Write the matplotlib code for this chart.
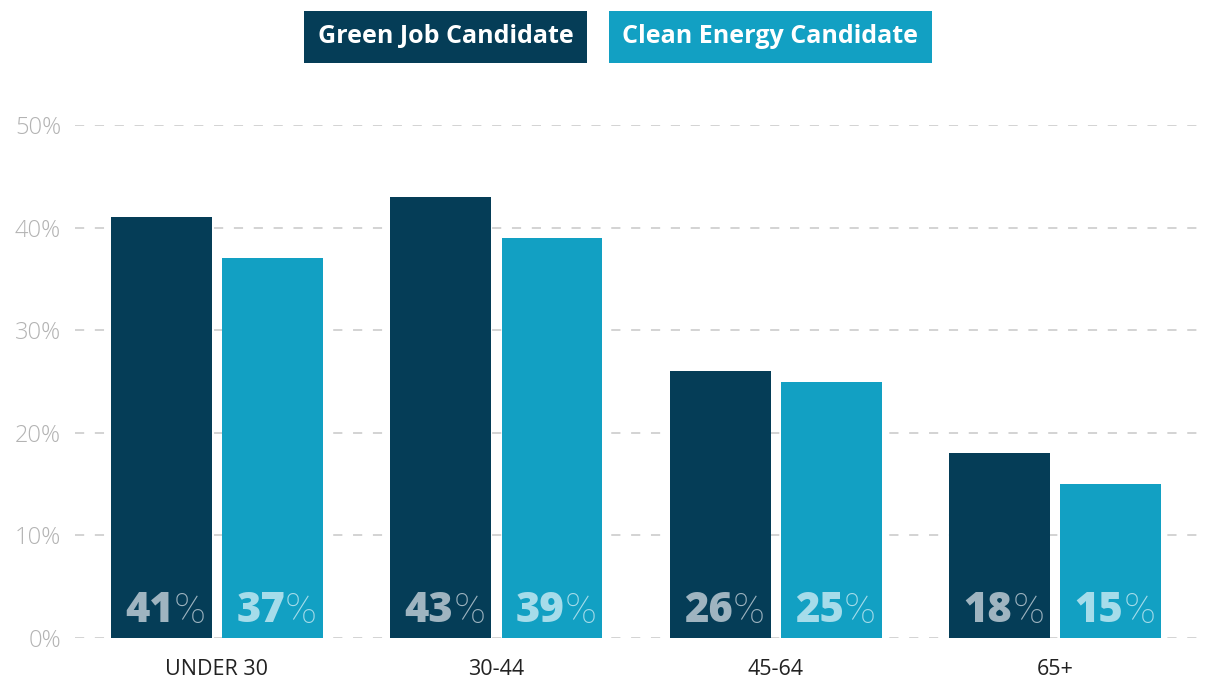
import numpy as np
import matplotlib.pyplot as plt

# data
groups = ['UNDER 30', '30-44', '45-64', '65+']
green_job = [41, 43, 26, 18]
clean_energy = [37, 39, 25, 15]
series_names = ['Green Job Candidate', 'Clean Energy Candidate']

dark = '#053d57'
light = '#12a0c3'

plt.rcParams['font.family'] = ['Open Sans', 'DejaVu Sans']

fig = plt.figure(figsize=(12.12, 6.81), dpi=100)
ax = fig.add_axes([0.0619, 0.0631, 0.928, 0.7533])

x = np.arange(len(groups))
w = 0.361
off = 0.199
ax.bar(x - off, green_job, w, color=dark, zorder=2)
ax.bar(x + off, clean_energy, w, color=light, zorder=2)

# value labels: bold number + light percent sign at bar bottom
for xs, vals, col in [(x - off, green_job, '#9fb4c0'), (x + off, clean_energy, '#a6dcea')]:
    for xi, v in zip(xs, vals):
        ax.annotate(str(v), (xi, 0), xytext=(9, 4), textcoords='offset points',
                    ha='right', va='bottom', fontsize=30, fontweight='heavy',
                    color=col, zorder=3)
        ax.annotate('%', (xi, 0), xytext=(9, 4), textcoords='offset points',
                    ha='left', va='bottom', fontsize=31, fontweight='light',
                    family=['Roboto', 'DejaVu Sans'], color=col, zorder=3)

ax.set_xlim(-0.508, 3.517)
ax.set_ylim(0, 50)
ax.set_yticks([0, 10, 20, 30, 40, 50])
ax.set_yticklabels([f'{t}%' for t in [0, 10, 20, 30, 40, 50]])
ax.set_xticks(x)
ax.set_xticklabels(groups)

ax.yaxis.grid(True, color='#c8c8c8', linestyle=(0, (6, 7)), linewidth=1.1, zorder=0)
ax.xaxis.grid(False)
for s in ax.spines.values():
    s.set_visible(False)
ax.tick_params(axis='y', length=0, pad=10, labelsize=17, labelcolor='#b3b3b3')
ax.tick_params(axis='x', length=0, pad=15, labelsize=15.5, labelcolor='#222222')
for lbl in ax.get_yticklabels():
    lbl.set_fontweight('light')

# legend boxes at the top
fig.text(0.3676, 0.946, series_names[0], ha='center', va='center', fontsize=18,
         fontweight='bold', color='white',
         bbox=dict(boxstyle='square,pad=0.53', fc=dark, ec='none'))
fig.text(0.6357, 0.946, series_names[1], ha='center', va='center', fontsize=18,
         fontweight='bold', color='white',
         bbox=dict(boxstyle='square,pad=0.53', fc=light, ec='none'))

fig.savefig('out.png', dpi=100)
